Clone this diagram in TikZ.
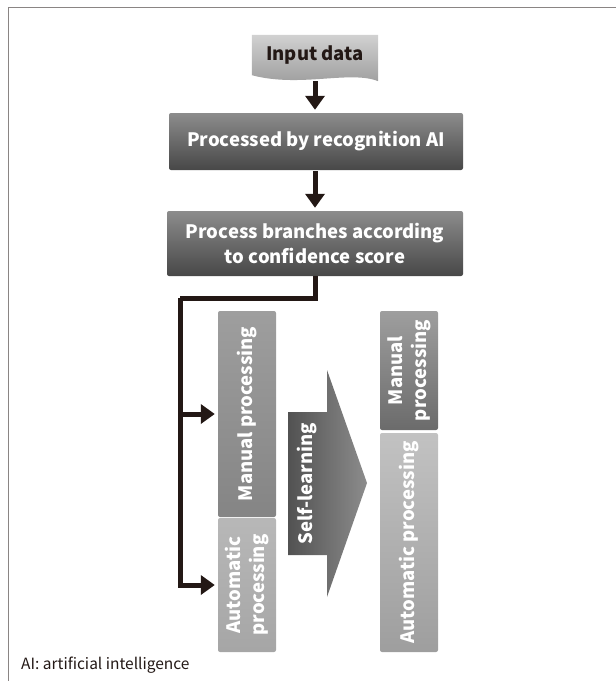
\documentclass[tikz,border=0pt]{standalone}
\usepackage{fontspec}
\setmainfont{Noto Sans CJK JP}
\usetikzlibrary{arrows.meta,calc}
\definecolor{ink}{HTML}{231815}
\definecolor{framec}{HTML}{8A8584}
\tikzset{
  darkbox/.style={rounded corners=2pt, top color=black!45, bottom color=black!72, text=white,
    font=\fontsize{18.5}{25}\selectfont\bfseries, align=center, inner sep=0pt},
  vbox/.style={rounded corners=2pt, inner sep=0pt},
  vtext/.style={rotate=90, text=white, font=\fontsize{18.5}{24}\selectfont\bfseries, align=center},
  conn/.style={draw=ink, line width=5pt, line join=miter},
  tip/.style={-{Triangle[width=19pt,length=14pt]}}
}
\begin{document}
\begin{tikzpicture}[x=1pt,y=-1pt]
\useasboundingbox (0,0) rectangle (616,681);
% frame
\draw[framec, line width=1.6pt] (8.5,681) -- (8.5,7.5) -- (616,7.5);
% input data (document shape)
\node[minimum width=126pt, minimum height=44pt, inner sep=0pt] (inp) at (315,57) {};
\shade[top color=black!18, bottom color=black!40]
  (inp.north west) -- (inp.north east) -- ([yshift=-2pt]inp.south east)
  .. controls (350,70) and (300,88) .. ([yshift=4pt]inp.south west) -- cycle;
\node[text=ink, font=\fontsize{18.5}{22}\selectfont\bfseries] at (315,55) {Input data};
% main boxes
\node[darkbox, minimum width=294pt, minimum height=57pt] (b2) at (316,141.5) {Processed by recognition AI};
\node[darkbox, minimum width=296pt, minimum height=65pt] (b3) at (315,243.5) {Process branches according\\to confidence score};
% arrows down
\draw[conn, tip, shorten >=3pt] (315,81) -- (b2.north -| 315,0);
\draw[conn, tip, shorten >=3pt] (315,171) -- (b3.north -| 315,0);
% left column
\node[vbox, minimum width=58pt, minimum height=206pt, top color=black!38, bottom color=black!48] (ml) at (247,414) {};
\node[vtext] at (ml.center) {Manual processing};
\node[vbox, minimum width=58pt, minimum height=134pt, top color=black!28, bottom color=black!35] (al) at (247,585) {};
\node[vtext] at (al.center) {Automatic\\processing};
% right column
\node[vbox, minimum width=58pt, minimum height=119pt, top color=black!38, bottom color=black!58] (mr) at (409,370.5) {};
\node[vtext] at (mr.center) {Manual\\processing};
\node[vbox, minimum width=58pt, minimum height=219pt, top color=black!24, bottom color=black!38] (ar) at (409,542.5) {};
\node[vtext] at (ar.center) {Automatic processing};
% self-learning arrow
\shade[left color=black!68, right color=black!45]
  (288,412) -- (327,412) -- (327,370) -- (367,483) -- (327,597) -- (327,555) -- (288,555) -- cycle;
\node[vtext] (sl) at (307.5,483.5) {Self-learning};
% branch connector
\coordinate (j) at (180,298);
\draw[conn] (b3.south -| 315,0) |- (j);
\draw[conn, tip] (j) |- ([xshift=-3pt]al.west);
\draw[conn, tip] (j |- ml.west) -- ([xshift=-3pt]ml.west);
% footnote
\node[anchor=west, text=ink, font=\fontsize{15.5}{18}\selectfont, inner sep=0pt] (fn) at (21,665) {AI: artificial intelligence};
\end{tikzpicture}
\end{document}
